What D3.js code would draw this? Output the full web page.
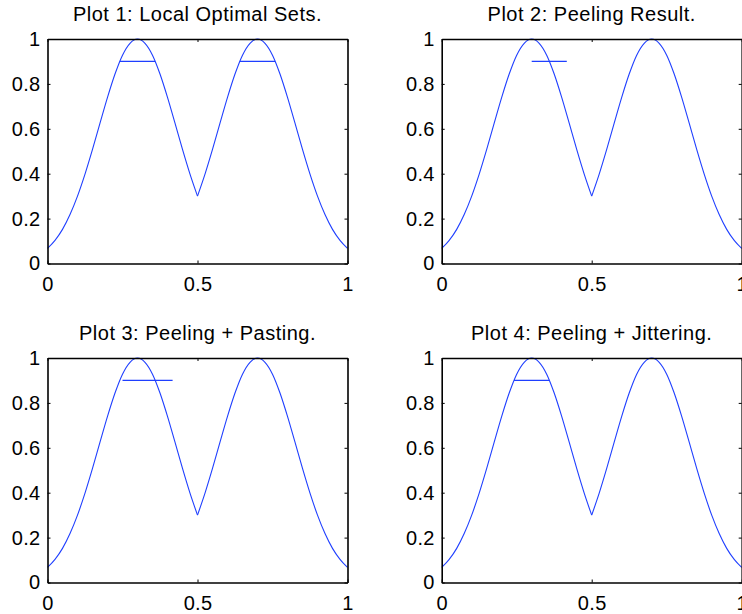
<!DOCTYPE html>
<html>
<head>
<meta charset="utf-8">
<script src="https://cdn.jsdelivr.net/npm/d3@7"></script>
<style>
  html, body { margin: 0; padding: 0; background: #fff; overflow: hidden; }
  svg { display: block; }
  text { font-family: "Liberation Sans", Arial, Helvetica, sans-serif; fill: #000; }
</style>
</head>
<body>
<svg id="chart" width="742" height="614"></svg>
<script>
// ---- data ----
const xValues = [0, 0.025, 0.05, 0.075, 0.1, 0.125, 0.15, 0.175, 0.2, 0.225, 0.25, 0.275, 0.3,
  0.325, 0.35, 0.375, 0.4, 0.425, 0.45, 0.475, 0.5,
  0.525, 0.55, 0.575, 0.6, 0.625, 0.65, 0.675, 0.7,
  0.725, 0.75, 0.775, 0.8, 0.825, 0.85, 0.875, 0.9, 0.925, 0.95, 0.975, 1];
const yValues = [0.067, 0.103, 0.152, 0.218, 0.300, 0.398, 0.508, 0.625, 0.740, 0.844, 0.928, 0.981, 1.0,
  0.981, 0.928, 0.844, 0.740, 0.625, 0.508, 0.398, 0.300,
  0.398, 0.508, 0.625, 0.740, 0.844, 0.928, 0.981, 1.0,
  0.981, 0.928, 0.844, 0.740, 0.625, 0.508, 0.398, 0.300, 0.218, 0.152, 0.103, 0.067];
const cuspX = 0.5;

const titles = ["Plot 1: Local Optimal Sets.", "Plot 2: Peeling Result.",
                "Plot 3: Peeling + Pasting.", "Plot 4: Peeling + Jittering."];
// horizontal segments at level 0.9 : [x0, x1]
const segLevel = 0.9;
const segments1 = [[0.241, 0.359], [0.641, 0.759]];
const segments2 = [[0.300, 0.417]];
const segments3 = [[0.250, 0.417]];
const segments4 = [[0.241, 0.359]];
const allSegments = [segments1, segments2, segments3, segments4];

const xTicks = [0, 0.5, 1];
const xTickLabels = ["0", "0.5", "1"];
const yTicks = [0, 0.2, 0.4, 0.6, 0.8, 1];
const yTickLabels = ["0", "0.2", "0.4", "0.6", "0.8", "1"];

// ---- layout ----
const W = 300, H = 224.5;
const origins = [[47.5, 39], [441.7, 39], [47.5, 358], [441.7, 358]];
const lineColor = "#1f3fff";
const fontSize = 20;

const svg = d3.select("#chart");
const points = xValues.map((x, i) => ({x, y: yValues[i]}));
const leftHalf = points.filter(p => p.x <= cuspX);
const rightHalf = points.filter(p => p.x >= cuspX);

origins.forEach((o, k) => {
  const g = svg.append("g").attr("transform", `translate(${o[0]},${o[1]})`);
  const x = d3.scaleLinear().domain([0, 1]).range([0, W]);
  const y = d3.scaleLinear().domain([0, 1]).range([H, 0]);

  // curve
  const line = d3.line().x(d => x(d.x)).y(d => y(d.y)).curve(d3.curveMonotoneX);
  [leftHalf, rightHalf].forEach(part => {
    g.append("path").attr("d", line(part))
      .attr("fill", "none").attr("stroke", lineColor).attr("stroke-width", 1.1);
  });

  // segments
  g.selectAll("line.seg").data(allSegments[k]).enter().append("line")
    .attr("class", "seg")
    .attr("x1", d => x(d[0])).attr("x2", d => x(d[1]))
    .attr("y1", y(segLevel)).attr("y2", y(segLevel))
    .style("stroke", lineColor).attr("stroke-width", 1.3);

  // axes
  const bottom = d3.axisBottom(x).tickValues(xTicks).tickFormat((d, i) => xTickLabels[i])
    .tickSizeInner(-3).tickSizeOuter(0).tickPadding(13.5);
  const top = d3.axisTop(x).tickValues(xTicks).tickFormat("")
    .tickSizeInner(-3).tickSizeOuter(0);
  const left = d3.axisLeft(y).tickValues(yTicks).tickFormat((d, i) => yTickLabels[i])
    .tickSizeInner(-3).tickSizeOuter(0).tickPadding(7);
  const right = d3.axisRight(y).tickValues(yTicks).tickFormat("")
    .tickSizeInner(-3).tickSizeOuter(0);

  const ax = [
    g.append("g").attr("transform", `translate(0,${H})`).call(bottom),
    g.append("g").call(top),
    g.append("g").call(left),
    g.append("g").attr("transform", `translate(${W},0)`).call(right)
  ];
  ax.forEach(a => {
    a.select(".domain").attr("stroke", "#000").attr("stroke-width", 1.6);
    a.selectAll(".tick line").attr("stroke", "#000").attr("stroke-width", 1);
    a.selectAll("text").attr("font-size", fontSize)
      .attr("font-family", "'Liberation Sans', Arial, Helvetica, sans-serif")
      .attr("fill", "#000").style("letter-spacing", "0.3px");
  });

  // title
  g.append("text").attr("x", W / 2).attr("y", -18)
    .attr("text-anchor", "middle").attr("font-size", fontSize)
    .style("letter-spacing", "0.5px")
    .text(titles[k]);
});
</script>
</body>
</html>
